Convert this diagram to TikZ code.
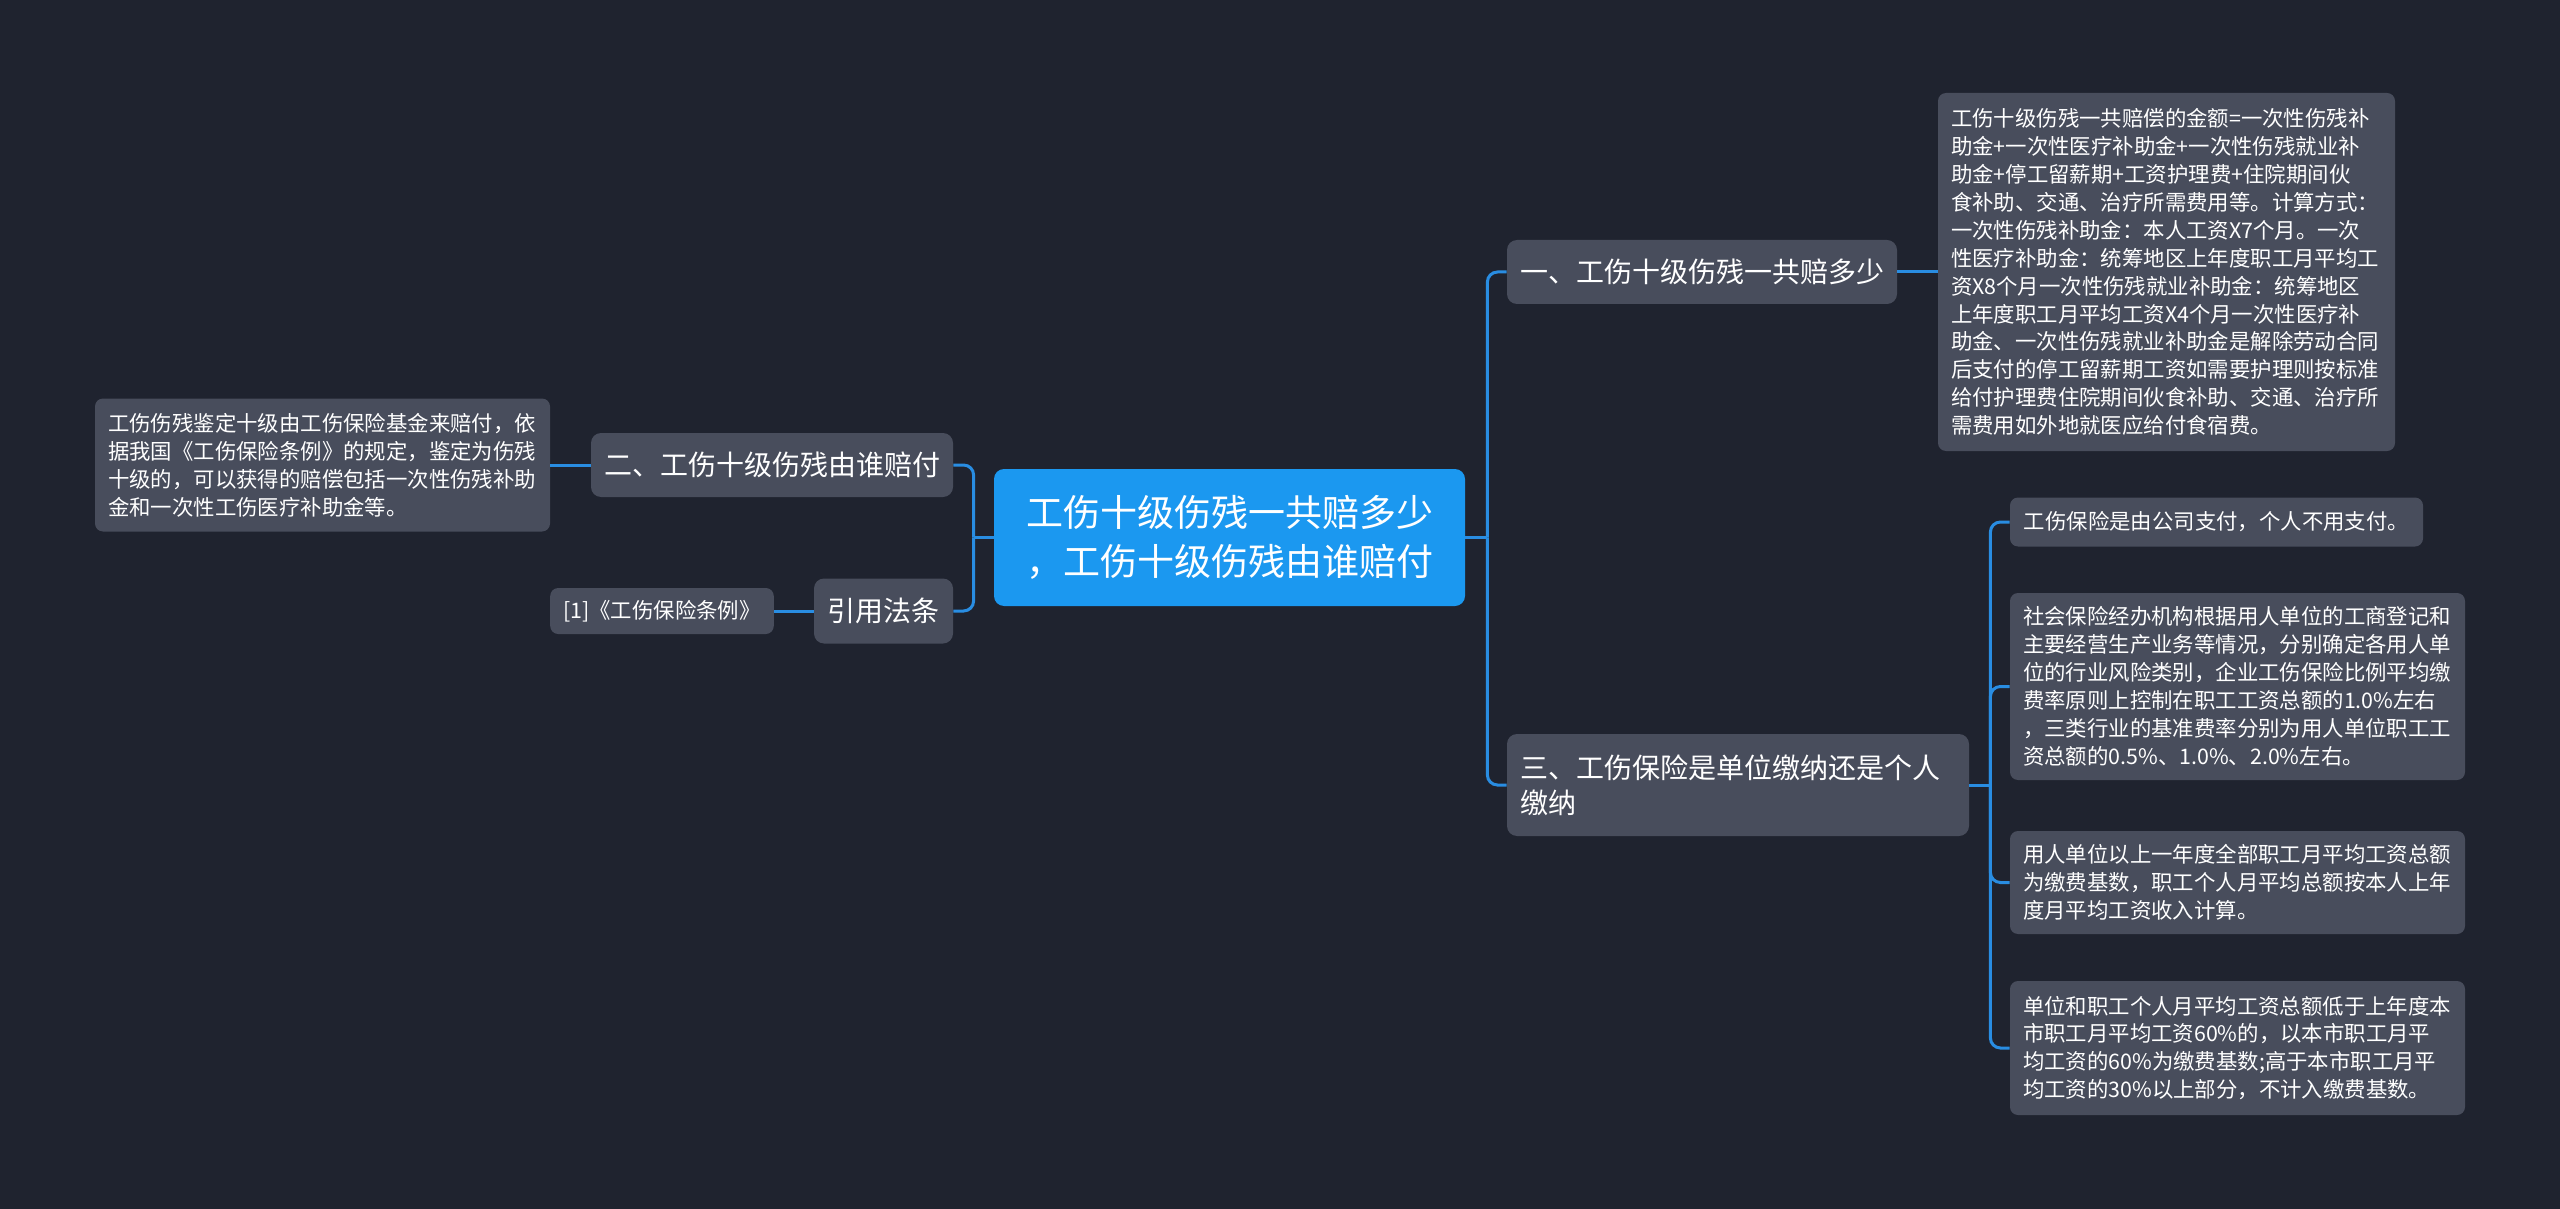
\documentclass[tikz,border=0pt]{standalone}
\usepackage{fontspec}
\setmainfont{Noto Sans CJK SC}
\usetikzlibrary{positioning}
\definecolor{bgdark}{RGB}{31,35,47}
\definecolor{nodegray}{RGB}{72,77,92}
\definecolor{rootblue}{RGB}{27,152,240}
\definecolor{linkblue}{RGB}{41,141,226}
\tikzset{
    mind edge/.style = {draw=linkblue, line width=1.5pt},
    branch edge/.style = {mind edge, rounded corners=5pt},
}
\tikzset{
    root topic/.style = {fill=rootblue, rounded corners=5pt, text=white, align=center, inner sep=0pt,
        font=\fontsize{18.5pt}{24.5pt}\selectfont},
    sub topic/.style = {fill=nodegray, rounded corners=5pt, text=white, align=left, inner xsep=6.5pt, inner ysep=0pt,
        font=\fontsize{14pt}{17.5pt}\selectfont},
    leaf topic/.style = {fill=nodegray, rounded corners=4pt, text=white, align=left, inner xsep=6.5pt, inner ysep=0pt,
        font=\fontsize{10.7pt}{13.95pt}\selectfont},
}

\begin{document}
\begin{tikzpicture}[x=0.5pt, y=-0.5pt]
        \fill[bgdark] (0,0) rectangle (2560,1209);
        \node[root topic, minimum width=235.5pt, minimum height=68.5pt] (root) at (1229.5,537.5)
            {工伤十级伤残一共赔多少\\，工伤十级伤残由谁赔付};
        % right side
        \node[sub topic, minimum width=195pt, minimum height=32pt] (one) at (1702,272) {一、工伤十级伤残一共赔多少};
        \node[sub topic, text width=218pt, minimum height=51pt] (three) at (1738,785)
            {三、工伤保险是单位缴纳还是个人\\缴纳};
        \node[leaf topic, text width=215.5pt, minimum height=179pt] (amount) at (2166.5,272)
            {工伤十级伤残一共赔偿的金额=一次性伤残补\\助金+一次性医疗补助金+一次性伤残就业补\\助金+停工留薪期+工资护理费+住院期间伙\\食补助、交通、治疗所需费用等。计算方式：\\一次性伤残补助金：本人工资X7个月。一次\\性医疗补助金：统筹地区上年度职工月平均工\\资X8个月一次性伤残就业补助金：统筹地区\\上年度职工月平均工资X4个月一次性医疗补\\助金、一次性伤残就业补助金是解除劳动合同\\后支付的停工留薪期工资如需要护理则按标准\\给付护理费住院期间伙食补助、交通、治疗所\\需费用如外地就医应给付食宿费。};
        \node[leaf topic, minimum width=206.5pt, minimum height=24.5pt] (pa) at (2216.5,522)
            {工伤保险是由公司支付，个人不用支付。};
        \node[leaf topic, text width=214.5pt, minimum height=93.5pt] (pb) at (2237.5,686.5)
            {社会保险经办机构根据用人单位的工商登记和\\主要经营生产业务等情况，分别确定各用人单\\位的行业风险类别，企业工伤保险比例平均缴\\费率原则上控制在职工工资总额的1.0\%左右\\，三类行业的基准费率分别为用人单位职工工\\资总额的0.5\%、1.0\%、2.0\%左右。};
        \node[leaf topic, text width=214.5pt, minimum height=51.5pt] (pc) at (2237.5,882.5)
            {用人单位以上一年度全部职工月平均工资总额\\为缴费基数，职工个人月平均总额按本人上年\\度月平均工资收入计算。};
        \node[leaf topic, text width=214.5pt, minimum height=67pt] (pd) at (2237.5,1048)
            {单位和职工个人月平均工资总额低于上年度本\\市职工月平均工资60\%的，以本市职工月平\\均工资的60\%为缴费基数;高于本市职工月平\\均工资的30\%以上部分，不计入缴费基数。};
        % left side
        \node[sub topic, minimum width=181pt, minimum height=32pt] (two) at (772,465) {二、工伤十级伤残由谁赔付};
        \node[sub topic, minimum width=69.5pt, minimum height=32.5pt] (cite) at (883.5,611) {引用法条};
        \node[leaf topic, text width=214.5pt, minimum height=66.5pt] (payer) at (322.5,465)
            {工伤伤残鉴定十级由工伤保险基金来赔付，依\\据我国《工伤保险条例》的规定，鉴定为伤残\\十级的，可以获得的赔偿包括一次性伤残补助\\金和一次性工伤医疗补助金等。};
        \node[leaf topic, minimum width=110pt, minimum height=23pt] (reflaw) at (662,611) {[1]《工伤保险条例》};
        % connectors
        \path (root.east) ++(22,0) coordinate (rspine);
        \draw[mind edge] (root.east) -- (rspine);
        \draw[branch edge] (rspine) |- (one.west);
        \draw[branch edge] (rspine) |- (three.west);
        \draw[mind edge] (one.east) -- (amount.west);
        \path (three.east) ++(21,0) coordinate (tspine);
        \draw[mind edge] (three.east) -- (tspine);
        \foreach \leaf in {pa, pb, pc, pd}
            \draw[branch edge] (tspine) |- (\leaf.west);
        \path (root.west) ++(-20,0) coordinate (lspine);
        \draw[mind edge] (root.west) -- (lspine);
        \draw[branch edge] (lspine) |- (two.east);
        \draw[branch edge] (lspine) |- (cite.east);
        \draw[mind edge] (two.west) -- (payer.east);
        \draw[mind edge] (cite.west) -- (reflaw.east);
    \end{tikzpicture}
\end{document}
